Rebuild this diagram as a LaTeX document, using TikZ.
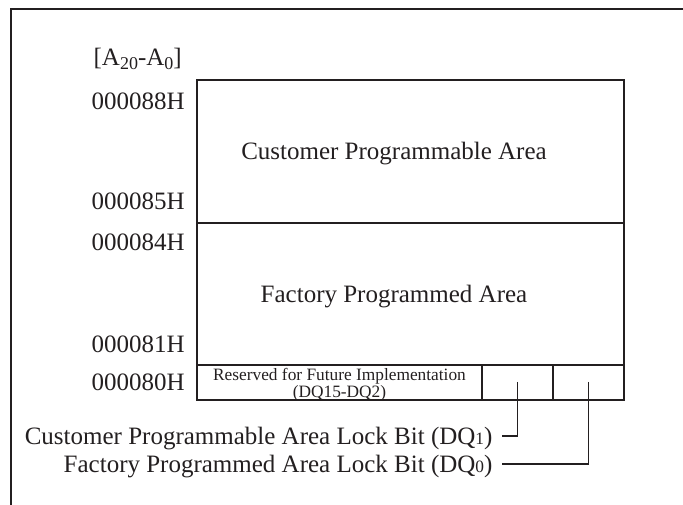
\documentclass[tikz,border=0pt]{standalone}
\usepackage{fontspec}
\setmainfont{Liberation Serif}
\usepackage{xcolor}
\usetikzlibrary{positioning,calc}

\definecolor{inkgray}{RGB}{35,31,32}
\tikzset{
  frameline/.style={draw=inkgray, line width=2pt},
  mapline/.style={draw=inkgray, line width=1.3pt},
  addr/.style={anchor=base east, inner sep=0.75pt, text=inkgray, font=\fontsize{18.75}{22}\selectfont},
  areatext/.style={anchor=base, inner sep=0.75pt, text=inkgray, font=\fontsize{18.75}{22}\selectfont},
  rsvtext/.style={align=center, inner sep=0.75pt, text=inkgray, font=\fontsize{13}{10.5}\selectfont},
  lockbit/.style={anchor=east, inner xsep=7pt, inner ysep=0.75pt, text depth=0pt, text=inkgray, font=\fontsize{18.75}{22}\selectfont},
}
\newcommand{\addrsub}[1]{\raisebox{-3pt}{\fontsize{13.5}{14}\selectfont #1}}
\newcommand{\bitdigit}[1]{{\fontsize{13}{14}\selectfont #1}}

\begin{document}
\begin{tikzpicture}[x=0.75pt,y=0.75pt,yscale=-1,xscale=1]
\useasboundingbox (0,0) rectangle (683,505);

%Shape: Frame
\draw [frameline] (11,505) -- (11,9) -- (683,9) ;
%Shape: Rectangle
\draw [mapline] (197,80) rectangle (624,400) ;
%Straight Lines
\draw [mapline] (197,223) -- (624,223) ;
\draw [mapline] (197,365) -- (624,365) ;
\draw [mapline] (482,365) -- (482,400) ;
\draw [mapline] (553,365) -- (553,400) ;

% Address column
\node [addr] (abus) at (183,66) {[A\addrsub{20}-A\addrsub{0}]};
\node [addr] (a88) at (186,110) {000088H};
\node [addr] (a85) at (186,210) {000085H};
\node [addr] (a84) at (186,251) {000084H};
\node [addr] (a81) at (186,353) {000081H};
\node [addr] (a80) at (186,391) {000080H};

% Areas
\node [areatext] (custarea) at (394,160) {Customer Programmable Area};
\node [areatext] (factarea) at (394,303) {Factory Programmed Area};
\node [rsvtext] (resv) at (339.5,385) {Reserved for Future Implementation\\(DQ15-DQ2)};

% Lock bits
\coordinate (dq1) at (517.5,382);
\coordinate (dq0) at (588.5,382);
\node [lockbit] (lock1) at (502,436) {Customer Programmable Area Lock Bit (DQ\bitdigit{1})};
\node [lockbit] (lock0) at (502,464) {Factory Programmed Area Lock Bit (DQ\bitdigit{0})};
\draw [mapline] (dq1) |- (lock1.east) ;
\draw [mapline] (dq0) |- (lock0.east) ;

\end{tikzpicture}
\end{document}
